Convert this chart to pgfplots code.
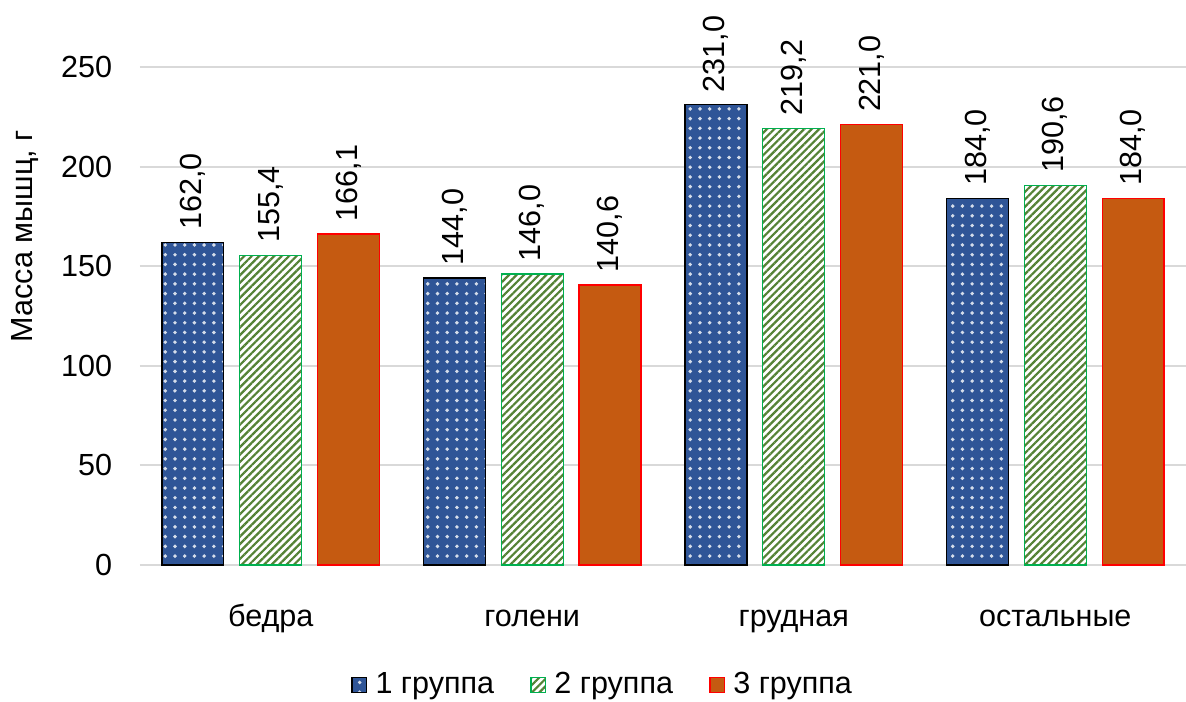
\documentclass[border=0pt]{standalone}
\usepackage{pgfplots}
\pgfplotsset{compat=1.18}
\usepackage{fontspec}
\setmainfont{Liberation Sans}
\usetikzlibrary{patterns.meta}

\definecolor{gOneFill}{HTML}{2F5597}
\definecolor{gTwoLine}{HTML}{548235}
\definecolor{gTwoEdge}{HTML}{00B050}
\definecolor{gThreeFill}{HTML}{C55A11}
\definecolor{gThreeEdge}{HTML}{FF0000}
\definecolor{gridgray}{HTML}{D9D9D9}

\begin{document}
\begin{tikzpicture}[font=\fontsize{11}{13}\selectfont]
\begin{axis}[
  at={(0,0)}, anchor=south west,
  scale only axis,
  width=376.6pt, height=179.3pt,
  xmin=-0.5, xmax=3.5,
  ymin=0, ymax=250,
  ytick={0,50,...,250},
  xtick={0,1,2,3},
  xticklabels={бедра,голени,грудная,остальные},
  xticklabel style={anchor=base, yshift=-18pt},
  yticklabel style={xshift=-6.5pt},
  /pgf/number format/assume math mode=true,
  axis line style={draw=none},
  tick style={draw=none},
  ymajorgrids,
  grid style={gridgray, line width=0.7pt},
  ylabel={Масса мышц, г},
  ylabel style={at={(axis description cs:-0.11,0.66)}, anchor=center},
  ybar,
  bar width=0.237,
  clip=false,
  nodes near coords,
  nodes near coords style={rotate=90, anchor=west, xshift=1pt,
    /pgf/number format/.cd, fixed, fixed zerofill, precision=1, use comma},
  legend style={at={(0.444,-0.241)}, anchor=center, draw=none, fill=none,
    legend columns=-1,
    /tikz/every even column/.append style={column sep=11pt},
    /tikz/every odd column/.append style={column sep=1pt}},
  legend image code/.code={\draw[#1] (0pt,-2.6pt) rectangle (5.2pt,2.6pt);},
]
\addplot[bar shift=-0.298, draw=black, line width=0.5pt, fill=gOneFill,
  postaction={pattern={Dots[radius=0.7pt, distance=3.5pt]}, pattern color=white!80!gOneFill}]
  coordinates {(0,162.0) (1,144.0) (2,231.0) (3,184.0)};
\addplot[bar shift=0, draw=gTwoEdge, line width=0.5pt, fill=white,
  postaction={pattern={Lines[angle=45, distance=1.9pt, line width=0.8pt]}, pattern color=gTwoLine}]
  coordinates {(0,155.4) (1,146.0) (2,219.2) (3,190.6)};
\addplot[bar shift=0.298, draw=gThreeEdge, line width=0.5pt, fill=gThreeFill]
  coordinates {(0,166.1) (1,140.6) (2,221.0) (3,184.0)};
\legend{1 группа, 2 группа, 3 группа}
\end{axis}
\pgfresetboundingbox
\path[use as bounding box] (-50.4pt,-49.3pt) rectangle (376.6pt,203.4pt);
\end{tikzpicture}
\end{document}
